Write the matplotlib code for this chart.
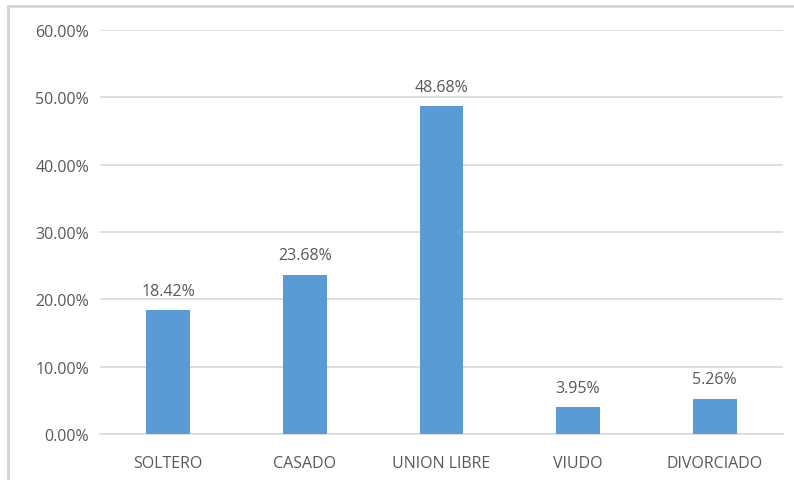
import matplotlib
matplotlib.use("Agg")
import matplotlib.pyplot as plt
from matplotlib.lines import Line2D

categories = ["SOLTERO", "CASADO", "UNION LIBRE", "VIUDO", "DIVORCIADO"]
values = [18.42, 23.68, 48.68, 3.95, 5.26]
yticks = [0, 10, 20, 30, 40, 50, 60]

W, H = 794, 481
fig = plt.figure(figsize=(W / 100, H / 100), dpi=100)
plt.rcParams['font.family'] = ['Open Sans', 'DejaVu Sans']
txt = '#595959'
fs = 11.5

# outer chart border (left and top visible)
fig.add_artist(Line2D([7.5 / W, 7.5 / W], [0, 1 - 6.5 / H], transform=fig.transFigure,
                      color='#d4d4d4', linewidth=2.0))
fig.add_artist(Line2D([7.5 / W, 1.0], [1 - 6.5 / H, 1 - 6.5 / H], transform=fig.transFigure,
                      color='#d4d4d4', linewidth=2.0))

ax = fig.add_axes([100 / W, (H - 435) / H, (783 - 100) / W, (435 - 31) / H])
x = list(range(len(categories)))
ax.bar(x, values, width=0.32, color='#5b9bd5', zorder=3)
ax.set_xlim(-0.5, len(categories) - 0.5)
ax.set_ylim(0, 60)
ax.set_yticks(yticks)
ax.set_yticklabels([f"{v:.2f}%" for v in yticks], color=txt, fontsize=fs)
ax.set_xticks(x)
ax.set_xticklabels(categories, color=txt, fontsize=fs)
ax.tick_params(axis='y', length=0, pad=8)
ax.tick_params(axis='x', length=0, pad=15)
ax.grid(axis='y', color='#d9d9d9', linewidth=1.2, zorder=0)
for s in ['top', 'right', 'left']:
    ax.spines[s].set_visible(False)
ax.spines['bottom'].set_color('#d9d9d9')
ax.spines['bottom'].set_linewidth(1.2)

for xi, v in zip(x, values):
    ax.annotate(f"{v:.2f}%", (xi, v), xytext=(0, 8), textcoords='offset points',
                ha='center', va='bottom', color=txt, fontsize=fs)

fig.savefig("out.png", dpi=100)
